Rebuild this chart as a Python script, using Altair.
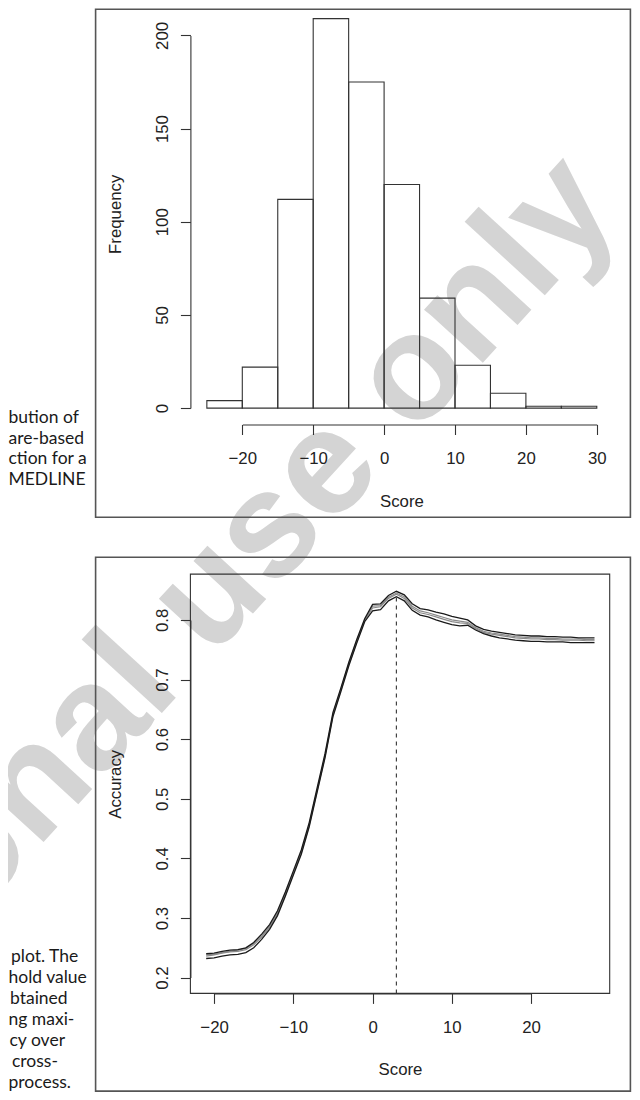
import altair as alt
import pandas as pd

# ---------------- data ----------------
bin_starts = [-25, -20, -15, -10, -5, 0, 5, 10, 15, 20, 25]
bin_counts = [4, 22, 112, 209, 175, 120, 59, 23, 8, 1, 1]
bin_width = 5
hist_x_ticks = [-20, -10, 0, 10, 20, 30]
hist_y_ticks = [0, 50, 100, 150, 200]

scores = list(range(-21, 29))
acc_a = [0.240, 0.241, 0.244, 0.246, 0.247, 0.250, 0.259, 0.273, 0.289, 0.312,
         0.344, 0.379, 0.414, 0.460, 0.518, 0.576, 0.645, 0.686, 0.729, 0.767,
         0.802, 0.826, 0.827, 0.841, 0.848, 0.842, 0.827, 0.819, 0.817, 0.813,
         0.810, 0.806, 0.803, 0.800, 0.790, 0.784, 0.781, 0.779, 0.777, 0.775,
         0.774, 0.773, 0.773, 0.772, 0.772, 0.771, 0.771, 0.770, 0.770, 0.770]
acc_b = [0.236, 0.238, 0.241, 0.243, 0.244, 0.247, 0.255, 0.268, 0.284, 0.307,
         0.339, 0.374, 0.409, 0.455, 0.513, 0.571, 0.640, 0.682, 0.725, 0.763,
         0.799, 0.820, 0.822, 0.836, 0.843, 0.836, 0.820, 0.812, 0.809, 0.805,
         0.801, 0.797, 0.795, 0.794, 0.785, 0.779, 0.776, 0.774, 0.772, 0.770,
         0.769, 0.768, 0.768, 0.767, 0.767, 0.766, 0.766, 0.766, 0.765, 0.765]
acc_c = [0.232, 0.233, 0.236, 0.238, 0.239, 0.242, 0.250, 0.264, 0.281, 0.304,
         0.337, 0.372, 0.407, 0.453, 0.511, 0.569, 0.638, 0.680, 0.723, 0.761,
         0.797, 0.815, 0.817, 0.832, 0.839, 0.832, 0.816, 0.808, 0.805, 0.800,
         0.796, 0.792, 0.790, 0.791, 0.783, 0.777, 0.773, 0.770, 0.768, 0.766,
         0.765, 0.764, 0.764, 0.763, 0.763, 0.763, 0.762, 0.762, 0.762, 0.762]
acc_d = [0.238, 0.239, 0.242, 0.244, 0.246, 0.249, 0.257, 0.270, 0.286, 0.309,
         0.341, 0.376, 0.411, 0.457, 0.515, 0.573, 0.642, 0.684, 0.727, 0.765,
         0.800, 0.823, 0.824, 0.838, 0.845, 0.839, 0.823, 0.815, 0.812, 0.808,
         0.804, 0.800, 0.798, 0.796, 0.787, 0.781, 0.778, 0.776, 0.774, 0.772,
         0.771, 0.770, 0.770, 0.769, 0.769, 0.768, 0.768, 0.768, 0.767, 0.767]
black_folds = {"fold 1": acc_a, "fold 3": acc_c}
gray_folds = {"fold 2": acc_b, "fold 4": acc_d}
acc_x_ticks = [-20, -10, 0, 10, 20]
acc_y_ticks = [0.2, 0.3, 0.4, 0.5, 0.6, 0.7, 0.8]
best_threshold = [3]
threshold_low = [0.1735]
threshold_high = [0.84]

caption_top = ["bution of", "are-based", "ction for a", "MEDLINE"]
caption_bottom = ["plot. The", "hold value", "btained", "ng maxi-",
                  "cy over", "cross-", "process."]
watermark_text = "For personal use only"

# ---------------- layout (pixels) ----------------
W, H = 624, 1084
SX, SY = 0.9875, 0.9866


def px(r):
    return round((r - 8.0) * SX, 1)


def py(r):
    return round((r - 0.5) * SY, 1)


INK = "#333333"
TEXT = "#222222"
FRAME = "#555555"
WM = "#d4d4d4"
AX_FONT = "Liberation Sans"
AX_SIZE = 16.8
TICK = 10

top_caption_left = [0.5, 0.5, 0.5, 0.5]
top_caption_base = [421.0, 442.0, 463.0, 484.0]
bot_caption_left = [3.0, 0.5, 2.0, 0.5, 1.5, 4.0, 0.5]
bot_caption_base = [967.2, 988.5, 1009.8, 1031.1, 1052.4, 1073.7, 1095.0]


def make_axis(**kw):
    base = dict(grid=False, zindex=1, domainColor=INK, domainWidth=1.1,
                tickColor=INK, tickWidth=1.1, tickSize=TICK,
                labelColor=TEXT, labelFont=AX_FONT, labelFontSize=AX_SIZE,
                labelFlush=False, labelOverlap=False, labelBaseline="alphabetic",
                titleColor=TEXT, titleFont=AX_FONT, titleFontSize=AX_SIZE,
                titleFontWeight="normal", titleBaseline="alphabetic",
                titleAlign="center")
    base.update(kw)
    return alt.Axis(**base)


# ---------------- histogram ----------------
hist_df = pd.DataFrame({
    "bin_start": bin_starts,
    "bin_end": [b + bin_width for b in bin_starts],
    "count": bin_counts,
})
h_yaxis_x = px(192.7)
h_xaxis_y = py(422.7)
hx_scale = alt.Scale(domain=[-20, 30], range=[px(245.3), px(604.3)], nice=False, zero=False)
hy_scale = alt.Scale(domain=[0, 200], range=[py(406.0), py(28.3)], nice=False, zero=False)
hx_axis = make_axis(orient="bottom", offset=h_xaxis_y - H, values=hist_x_ticks,
                    labelPadding=28.9, labelAlign="center", title="Score",
                    titleX=px(406.4), titleY=py(505.8) - h_xaxis_y)
hy_axis = make_axis(orient="left", offset=-h_yaxis_x, values=hist_y_ticks,
                    labelAngle=270, labelAlign="center", labelPadding=13.0,
                    title="Frequency", titleAngle=270,
                    titleX=px(121.5) - h_yaxis_x, titleY=py(209.1))
hist = alt.Chart(hist_df).mark_rect(fillOpacity=0, stroke=INK, strokeWidth=1.1).encode(
    x=alt.X("bin_start:Q", scale=hx_scale, axis=hx_axis),
    x2="bin_end:Q",
    y=alt.Y("count:Q", scale=hy_scale, axis=hy_axis),
    y2=alt.datum(0),
)

# ---------------- accuracy plot ----------------
def long_df(folds):
    rows = []
    for name, vals in folds.items():
        for s, v in zip(scores, vals):
            rows.append({"fold": name, "score": s, "accuracy": v})
    return pd.DataFrame(rows)


a_yaxis_x = px(192.7)
a_xaxis_y = py(999.3)
ax_scale = alt.Scale(domain=[-20, 20], range=[px(216.7), px(537.7)], nice=False, zero=False)
ay_scale = alt.Scale(domain=[0.2, 0.8], range=[py(983.3), py(620.7)], nice=False, zero=False)
ax_axis = make_axis(orient="bottom", offset=a_xaxis_y - H, values=acc_x_ticks,
                    labelPadding=28.9, labelAlign="center", title="Score",
                    titleX=px(405.0), titleY=py(1081.3) - a_xaxis_y)
ay_axis = make_axis(orient="left", offset=-a_yaxis_x, values=acc_y_ticks, format=".1f",
                    labelAngle=270, labelAlign="center", labelPadding=13.0,
                    title="Accuracy", titleAngle=270,
                    titleX=px(121.5) - a_yaxis_x, titleY=py(786.8))
AX = alt.X("score:Q", scale=ax_scale, axis=ax_axis)
AY = alt.Y("accuracy:Q", scale=ay_scale, axis=ay_axis)

gray_lines = alt.Chart(long_df(gray_folds)).mark_line(color="#8a8a8a", strokeWidth=1.2).encode(
    x=AX, y=AY, detail="fold:N")
black_lines = alt.Chart(long_df(black_folds)).mark_line(color="#1a1a1a", strokeWidth=1.3).encode(
    x=AX, y=AY, detail="fold:N")
thr_df = pd.DataFrame({"score": best_threshold, "accuracy": threshold_low,
                       "accuracy_top": threshold_high})
thr_rule = alt.Chart(thr_df).mark_rule(color=INK, strokeWidth=1.1, strokeDash=[4, 4]).encode(
    x=AX, y=AY, y2="accuracy_top:Q")
acc = alt.layer(gray_lines, black_lines, thr_rule)

# ---------------- frames / annotations ----------------
one = pd.DataFrame({"k": [0]})


def box(x0, x1, y0, y1, color, width):
    return alt.Chart(one).mark_rect(fillOpacity=0, stroke=color, strokeWidth=width).encode(
        x=alt.value(x0), x2=alt.value(x1), y=alt.value(y0), y2=alt.value(y1))


plot_box = box(px(192.7), px(617.3), py(574.3), py(999.3), INK, 1.1)
frame_top = box(px(96.7), px(638.3), py(1.7), py(516.7), FRAME, 1.6)
frame_bot = box(px(96.7), px(638.3), py(557.3), py(1098.3), FRAME, 1.6)

watermark = alt.Chart(pd.DataFrame({"t": [watermark_text]})).mark_text(
    angle=312.5, align="right", baseline="alphabetic", font="Liberation Sans",
    fontWeight="bold", fontSize=150, color=WM,
).encode(x=alt.value(px(630.0)), y=alt.value(py(206.0)), text="t:N")

captions = []
for txt, xl, yb in list(zip(caption_top, top_caption_left, top_caption_base)) + \
        list(zip(caption_bottom, bot_caption_left, bot_caption_base)):
    captions.append(
        alt.Chart(pd.DataFrame({"t": [txt]})).mark_text(
            align="left", baseline="alphabetic", font="Lato", fontSize=17.5,
            color="#1a1a1a"
        ).encode(x=alt.value(xl), y=alt.value(py(yb)), text="t:N")
    )

chart = alt.layer(
    watermark, hist, acc, plot_box, frame_top, frame_bot, *captions
).resolve_scale(
    x="independent", y="independent"
).properties(
    width=W, height=H, padding=0, background="white",
    autosize=alt.AutoSizeParams(type="none"),
).configure_view(strokeWidth=0)

chart.save("out.html", embed_options={"renderer": "svg", "actions": False})
